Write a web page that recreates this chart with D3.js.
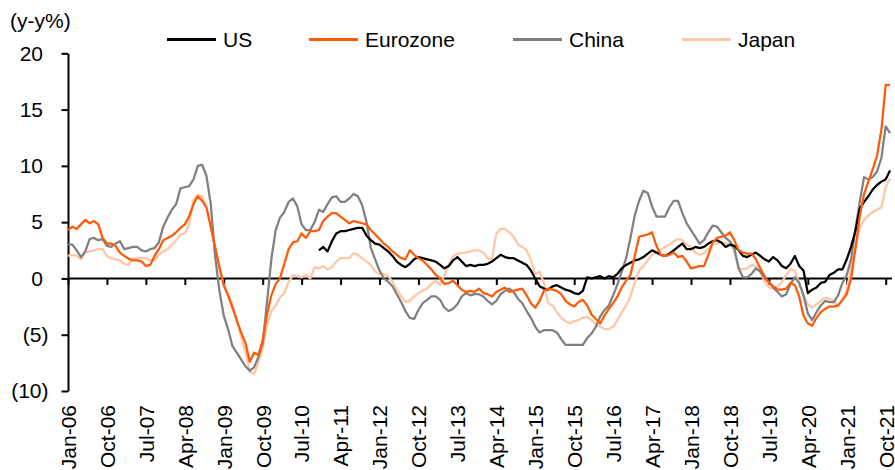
<!DOCTYPE html>
<meta charset="utf-8">
<head>
    <title>Producer prices y-y</title>
    <!-- load the d3.js library -->
    <script src="https://d3js.org/d3.v7.min.js"></script>
    <style>
        body { margin: 0; background: #fff; }
        svg text { font-family: "Liberation Sans", Arial, sans-serif; font-size: 21px; fill: #000; }
        .line { fill: none; stroke-width: 2.25px; stroke-linejoin: round; }
        .axis path, .axis line { stroke: #000; stroke-width: 2px; }
    </style>
</head>
<body>
<script>
// monthly data, Jan-06 .. Nov-21 (US starts Nov-10)
var tickLabels = ["Jan-06","Oct-06","Jul-07","Apr-08","Jan-09","Oct-09","Jul-10","Apr-11",
    "Jan-12","Oct-12","Jul-13","Apr-14","Jan-15","Oct-15","Jul-16","Apr-17","Jan-18",
    "Oct-18","Jul-19","Apr-20","Jan-21","Oct-21"];
var yTicks = [-10, -5, 0, 5, 10, 15, 20];
var usStart = 58; // Nov-10 = month 58 after Jan-06

var eurozone = [
    4.3,4.6,4.4,4.8,5.2,4.9,5.1,4.8,3.6,3.1,3.1,2.9,
    2.3,2.0,1.75,1.6,1.6,1.5,1.1,1.2,2.0,2.6,3.4,3.6,
    3.8,4.1,4.5,4.8,5.5,6.6,7.3,6.9,6.3,4.6,2.8,1.0,
    -0.6,-1.5,-2.6,-3.7,-4.8,-5.7,-7.4,-6.6,-6.8,-5.5,-3.2,-1.5,
    -0.5,0.0,1.3,2.6,3.2,3.3,4.0,3.6,4.2,4.2,4.3,5.1,
    5.5,5.8,5.8,5.5,5.2,4.9,5.1,5.0,4.9,4.8,4.3,3.9,
    3.5,3.1,2.8,2.4,2.1,1.8,1.7,2.5,2.1,1.8,1.6,1.2,
    0.8,0.3,0.0,-0.5,-0.4,-0.2,-0.6,-1.0,-1.2,-1.1,-1.2,-0.9,
    -1.3,-1.4,-1.6,-1.2,-1.0,-0.8,-1.2,-1.1,-1.0,-0.9,-1.5,-2.2,
    -2.6,-2.0,-1.1,-0.9,-1.0,-1.1,-1.4,-2.0,-2.3,-2.5,-2.1,-1.9,
    -2.4,-3.2,-3.6,-4.0,-3.3,-2.7,-2.2,-1.6,-0.8,-0.2,0.3,2.0,
    3.7,3.8,3.9,4.1,2.9,2.1,2.0,2.1,2.3,1.9,2.0,1.5,
    0.9,1.0,1.1,1.1,2.1,3.2,3.6,3.7,3.8,4.1,3.4,2.5,
    2.3,2.2,2.2,1.7,0.9,0.2,-0.4,-0.7,-1.0,-1.0,-0.9,-0.4,
    -0.6,-1.6,-3.3,-4.0,-4.2,-3.5,-3.0,-2.7,-2.5,-2.5,-2.4,-1.9,
    -1.4,0.0,2.6,5.5,7.5,8.6,9.7,10.9,13.2,17.2,17.2];

var china = [
    3.0,3.0,2.5,1.9,2.4,3.5,3.6,3.4,3.5,2.9,2.8,3.1,
    3.3,2.6,2.7,2.8,2.8,2.5,2.4,2.6,2.7,3.2,4.6,5.4,
    6.1,6.6,8.0,8.1,8.2,8.8,10.0,10.1,9.1,6.6,2.0,-1.1,
    -3.3,-4.5,-6.0,-6.6,-7.2,-7.8,-8.2,-7.9,-7.0,-5.8,-2.1,1.7,
    4.3,5.4,5.9,6.8,7.1,6.4,4.8,4.3,4.3,5.0,6.1,5.9,
    6.6,7.2,7.3,6.8,6.8,7.1,7.5,7.3,6.5,5.0,2.7,1.7,
    0.7,0.0,-0.3,-0.7,-1.4,-2.1,-2.9,-3.5,-3.6,-2.8,-2.2,-1.9,
    -1.6,-1.6,-1.9,-2.6,-2.9,-2.7,-2.3,-1.6,-1.3,-1.5,-1.4,-1.4,
    -1.6,-2.0,-2.3,-2.0,-1.4,-1.1,-0.9,-1.2,-1.8,-2.2,-2.9,-3.5,
    -4.3,-4.8,-4.6,-4.6,-4.6,-4.8,-5.4,-5.9,-5.9,-5.9,-5.9,-5.9,
    -5.3,-4.9,-4.3,-3.4,-2.8,-2.4,-1.5,-0.5,0.6,1.8,3.6,5.6,
    6.9,7.8,7.6,6.4,5.5,5.5,5.5,6.3,6.9,6.9,5.8,4.9,
    4.3,3.7,3.1,3.4,4.1,4.7,4.6,4.1,3.6,3.3,2.7,0.9,
    0.1,0.1,0.4,0.9,0.6,0.0,-0.3,-0.8,-1.2,-1.6,-1.4,-0.5,
    0.1,-0.4,-1.5,-3.1,-3.7,-3.0,-2.4,-2.0,-2.1,-2.1,-1.5,-0.4,
    0.3,1.7,4.4,6.8,9.0,8.8,9.0,9.5,10.7,13.5,12.9];

var japan = [
    2.0,2.1,2.0,1.7,2.3,2.4,2.5,2.6,2.6,2.0,1.8,1.7,
    1.6,1.3,1.2,1.8,1.8,1.8,1.8,1.6,1.6,2.1,2.4,2.6,
    3.0,3.4,3.9,4.0,4.8,7.0,7.4,7.3,6.4,4.6,2.7,1.0,
    -0.6,-1.4,-2.3,-3.7,-5.2,-6.5,-8.3,-8.5,-7.5,-6.3,-4.2,-2.9,
    -2.4,-1.7,-1.3,-0.3,0.3,0.2,0.1,0.3,0.0,1.0,0.9,1.1,
    0.8,1.0,1.5,1.8,1.8,1.8,2.25,2.1,1.8,1.5,1.2,0.6,
    0.4,0.4,0.2,-0.3,-1.0,-1.6,-2.1,-2.0,-1.6,-1.3,-1.1,-0.9,
    -0.5,-0.2,-0.6,0.3,1.2,2.0,2.2,2.25,2.3,2.4,2.5,2.5,
    2.3,1.8,1.7,4.0,4.4,4.4,4.1,3.7,3.0,2.8,2.5,1.6,
    0.4,0.6,-0.4,-2.2,-2.4,-3.0,-3.5,-3.8,-4.0,-3.8,-3.7,-3.5,
    -3.4,-3.7,-4.1,-4.3,-4.5,-4.5,-4.3,-3.7,-3.0,-2.4,-1.6,-0.4,
    0.7,1.1,1.6,2.1,2.3,2.5,2.8,3.0,3.3,3.5,3.4,3.0,
    2.8,2.3,2.1,2.25,2.6,3.0,3.1,3.2,3.1,3.1,2.4,0.9,
    0.8,0.9,1.2,1.1,0.6,-0.3,-0.8,-0.9,-0.7,-0.3,0.3,0.8,
    0.7,-0.4,-1.5,-2.3,-2.6,-2.3,-2.0,-1.7,-1.8,-2.0,-2.4,-2.0,
    -1.0,1.0,2.8,4.5,5.2,5.6,5.9,6.1,6.3,8.1,8.9];

var us = [
    2.5,2.8,2.4,3.3,4.0,4.2,4.2,4.3,4.4,4.5,4.5,3.8,3.4,3.1,
    3.0,2.7,2.4,2.0,1.5,1.2,1.0,1.3,1.7,1.9,1.8,1.7,
    1.6,1.5,1.2,0.9,1.1,1.6,1.9,1.5,1.1,1.2,1.1,1.2,
    1.2,1.3,1.5,1.8,2.1,1.9,1.8,1.8,1.6,1.4,1.2,0.7,
    0.0,-0.7,-0.9,-1.0,-0.7,-0.6,-0.8,-1.0,-1.1,-1.3,-1.4,-1.1,
    0.1,0.0,0.1,0.2,0.0,0.2,0.1,0.4,0.9,1.2,1.4,1.6,
    1.7,1.9,2.2,2.5,2.3,2.1,2.0,2.2,2.5,2.8,3.1,2.6,
    2.6,2.8,2.7,2.8,3.1,3.3,3.4,3.2,2.8,3.0,2.9,2.5,
    2.0,1.9,2.1,2.3,2.0,1.7,1.5,1.9,1.6,1.1,0.9,1.3,
    2.0,1.1,0.7,-1.3,-1.0,-0.8,-0.4,-0.3,0.3,0.5,0.8,0.8,
    1.7,2.8,4.2,6.2,6.8,7.3,7.9,8.3,8.6,8.8,9.6];

var series = [
    {name: "Japan", color: "#ffc6a6", values: japan, start: 0},
    {name: "China", color: "#808080", values: china, start: 0},
    {name: "US", color: "#000000", values: us, start: usStart},
    {name: "Eurozone", color: "#ff5a0a", values: eurozone, start: 0}
];
var legendOrder = ["US", "Eurozone", "China", "Japan"];
var legendX = [167, 309, 513, 682];

var width = 895, height = 470;

// scales: month index -> x, percent -> y
var x = d3.scaleLinear().domain([0, 189]).range([68, 885.7]);
var y = d3.scaleLinear().domain([-10, 20]).range([391, 53.3]);

var svg = d3.select("body").append("svg")
    .attr("width", width)
    .attr("height", height);

// y axis
var yAxis = svg.append("g")
    .attr("class", "axis")
    .attr("transform", "translate(68,0)")
    .call(d3.axisLeft(y).tickValues(yTicks).tickSize(6.5).tickSizeOuter(0).tickPadding(13)
        .tickFormat(function(d) { return d < 0 ? "(" + (-d) + ")" : d; }));
yAxis.selectAll("text")
    .attr("dx", function(d) { return d < 0 ? 0 : -5.5; });

// zero line with ticks
var monthTicks = tickLabels.map(function(d, i) { return i * 9; });
var zeroAxis = svg.append("g")
    .attr("class", "axis")
    .attr("transform", "translate(0," + y(0) + ")")
    .call(d3.axisBottom(x).tickValues(monthTicks).tickSize(6.5).tickSizeOuter(0).tickFormat(""));
zeroAxis.select(".domain").remove();
zeroAxis.append("line")
    .attr("x1", x(0)).attr("x2", x(190) + 2)
    .attr("stroke", "#000").attr("stroke-width", 2);

// labels at the bottom
var labelAxis = svg.append("g")
    .attr("transform", "translate(0,405)")
    .call(d3.axisBottom(x).tickValues(monthTicks).tickSize(0)
        .tickFormat(function(d, i) { return tickLabels[i]; }));
labelAxis.select(".domain").remove();
labelAxis.selectAll("text")
    .attr("transform", "rotate(-90)")
    .attr("x", 0)
    .attr("y", 0)
    .attr("dy", "0.35em")
    .style("text-anchor", "end");

// lines
var line = d3.line()
    .x(function(d) { return x(d.m); })
    .y(function(d) { return y(d.v); });

series.forEach(function(s) {
    var pts = s.values.map(function(v, i) { return {m: s.start + i, v: v}; });
    svg.append("path")
        .datum(pts)
        .attr("class", "line")
        .style("stroke", s.color)
        .attr("d", line);
});

// unit label
svg.append("text")
    .attr("x", 10)
    .attr("y", 28)
    .text("(y-y%)");

// legend
legendOrder.forEach(function(name, i) {
    var s = series.find(function(d) { return d.name == name; });
    var g = svg.append("g").attr("transform", "translate(" + legendX[i] + ",39.5)");
    g.append("line")
        .attr("x1", 0).attr("x2", 49)
        .attr("stroke", s.color).attr("stroke-width", 3);
    g.append("text")
        .attr("x", 56)
        .attr("dy", "0.35em")
        .text(name);
});
</script>
</body>
